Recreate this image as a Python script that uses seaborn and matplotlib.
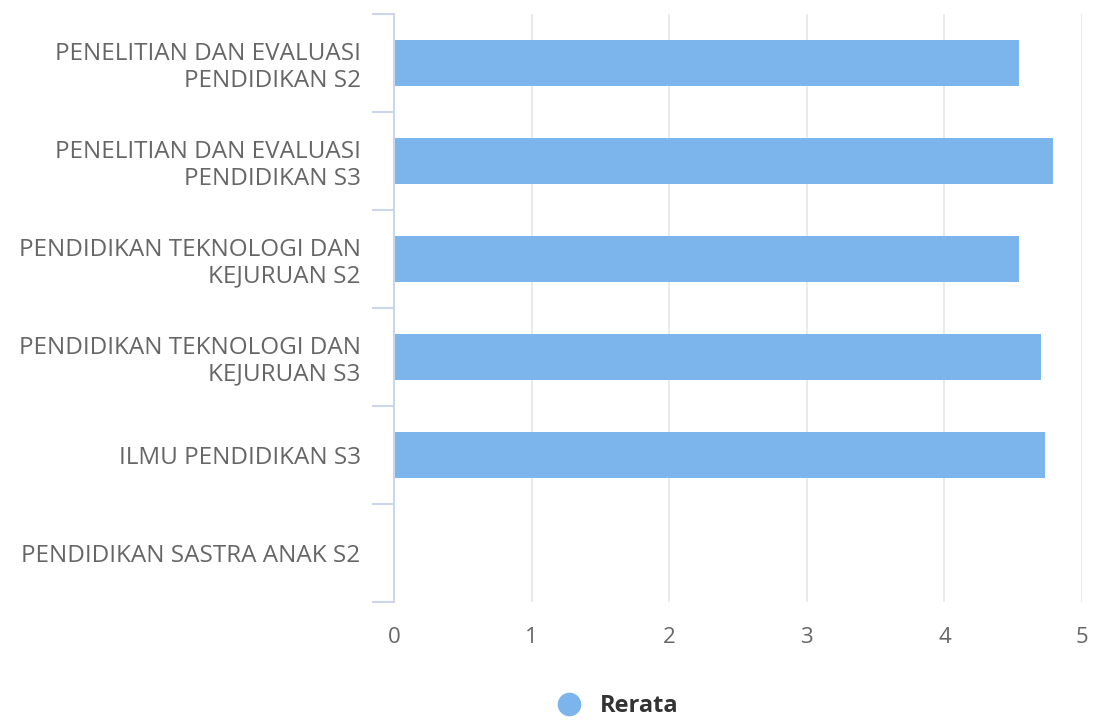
import numpy as np
import pandas as pd
import matplotlib
matplotlib.use("Agg")
import matplotlib.pyplot as plt
import seaborn as sns
from matplotlib.lines import Line2D

categories = [
    "PENELITIAN DAN EVALUASI\nPENDIDIKAN S2",
    "PENELITIAN DAN EVALUASI\nPENDIDIKAN S3",
    "PENDIDIKAN TEKNOLOGI DAN\nKEJURUAN S2",
    "PENDIDIKAN TEKNOLOGI DAN\nKEJURUAN S3",
    "ILMU PENDIDIKAN S3",
    "PENDIDIKAN SASTRA ANAK S2",
]
rerata = [4.54, 4.79, 4.54, 4.70, 4.73, 0.0]
x_ticks = [0, 1, 2, 3, 4, 5]
series_name = "Rerata"

sns.set_theme(style="white")
plt.rcParams['font.family'] = ['Open Sans', 'DejaVu Sans']

df = pd.DataFrame({"cat": categories, "val": rerata})

fig = plt.figure(figsize=(10.94, 7.2), dpi=100)
ax = fig.add_axes([394/1094, 1 - 602/720, (1082-394)/1094, (602-14)/720])

sns.barplot(data=df, y="cat", x="val", order=categories, color="#7cb5ec",
            saturation=1, width=0.46, linewidth=0, ax=ax, orient="h")

ax.set_xlim(0, 5)
ax.set_ylim(5.5, -0.5)
ax.set_xticks(x_ticks)
ax.set_xticklabels([str(t) for t in x_ticks])
ax.set_xlabel("")
ax.set_ylabel("")

for t in x_ticks[1:]:
    ax.axvline(t, color="#e6e6e6", lw=1.2, zorder=0)

for s in ["top", "right", "bottom"]:
    ax.spines[s].set_visible(False)
ax.spines["left"].set_color("#ccd6eb")
ax.spines["left"].set_linewidth(1.5)

ax.tick_params(axis="x", length=0, pad=18, labelsize=16, labelcolor="#666666")
ax.tick_params(axis="y", which="major", left=True, length=0, pad=24, labelsize=17.5, labelcolor="#666666")
ax.set_yticks(np.arange(-0.5, 6.0, 1.0), minor=True)
ax.tick_params(axis="y", which="minor", left=True, length=16, width=1.5, color="#ccd6eb", direction="out")
for lab in ax.get_yticklabels():
    lab.set_horizontalalignment("right")
    lab.set_multialignment("right")
    lab.set_linespacing(1.15)

handle = Line2D([], [], marker="o", linestyle="none", markersize=17,
                markerfacecolor="#7cb5ec", markeredgewidth=0)
fig.legend([handle], [series_name], loc="center", bbox_to_anchor=(0.559, 1 - 706/720),
           frameon=False, handletextpad=0.3,
           prop={"size": 17, "weight": "bold"}, labelcolor="#333333")

fig.savefig("out.png", dpi=100, facecolor="white")
